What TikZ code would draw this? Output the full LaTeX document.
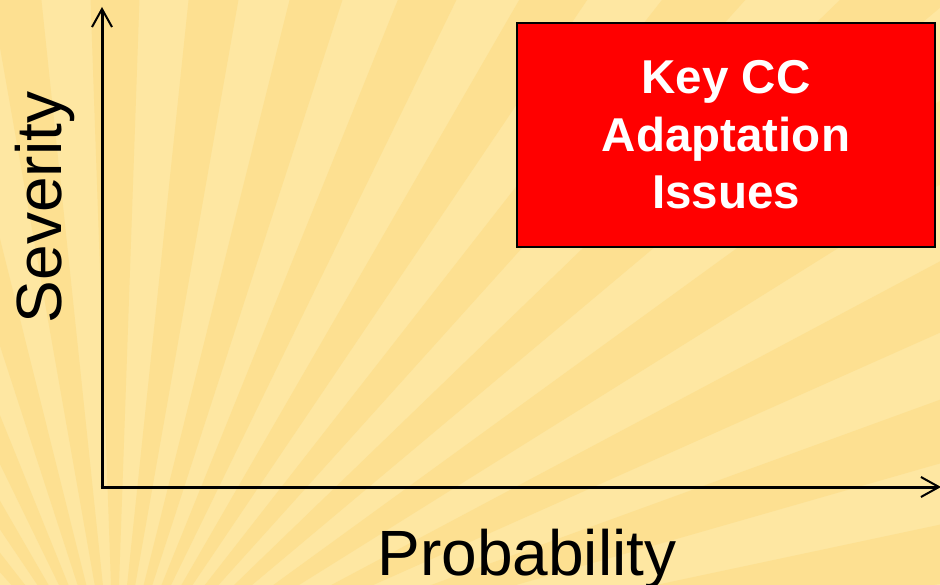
\documentclass[tikz,border=0pt]{standalone}
\usepackage{fontspec}
\setmainfont{Liberation Sans}
\usepackage{tikz}
\usetikzlibrary{arrows.meta, positioning, calc}
\definecolor{raylight}{RGB}{254,231,162}
\definecolor{raydark}{RGB}{253,224,145}
\definecolor{keyred}{RGB}{255,0,0}

\begin{document}
\begin{tikzpicture}[x=1pt, y=-1pt,
    axis/.style={line width=3pt, -{Straight Barb[length=18pt,width=20pt,line width=2pt]}},
    axislabel/.style={font=\fontsize{64}{70}\selectfont, inner sep=0pt, anchor=base},
    keybox/.style={draw=black, line width=1.5pt, fill=keyred, text=white, align=center,
                   font=\fontsize{47.5}{57.5}\selectfont\bfseries,
                   minimum width=418pt, minimum height=224pt, inner sep=0pt}]
  \useasboundingbox (0,0) rectangle (940,585);

  % Sunburst background
  \begin{scope}
    \clip (0,0) rectangle (940,585);
    \fill[raylight] (0,0) rectangle (940,585);
    \coordinate (sun) at (115,700);
    \foreach \a in {180,188,...,356}
      \fill[raydark] (sun) -- +(\a:1400) -- +(\a+4:1400) -- cycle;
  \end{scope}

  % Axes
  \coordinate (origin) at (102,487);
  \coordinate (ytip) at (102,7);
  \coordinate (xtip) at (941,487);
  \draw[axis] ([xshift=-1.5pt]origin) -- (xtip);
  \draw[axis] ([yshift=1.5pt]origin) -- (ytip);

  % Axis labels
  \node[axislabel, rotate=90] (severity) at (61,207.5) {Severity};
  \node[axislabel] (probability) at (527,575) {Probability};

  % Key issues box
  \node[keybox] (key) at (726,135) {Key CC\\Adaptation\\Issues};

\end{tikzpicture}
\end{document}
